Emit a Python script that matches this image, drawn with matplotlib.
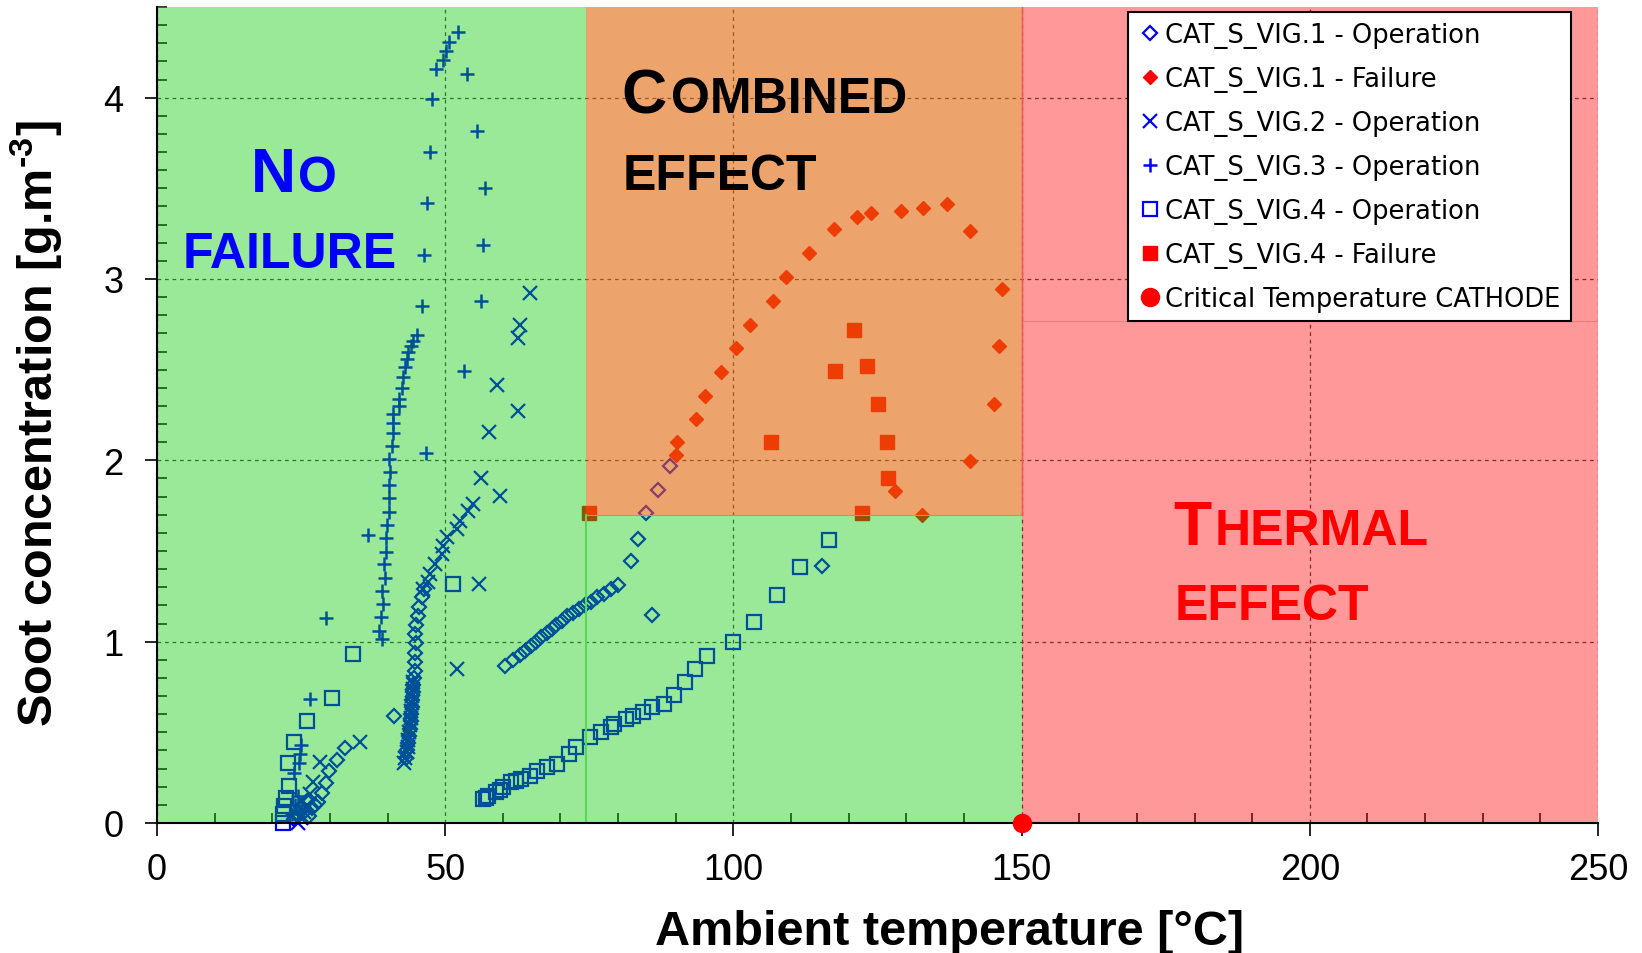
import matplotlib
matplotlib.use('Agg')
import matplotlib.pyplot as plt
from matplotlib.patches import Rectangle
from matplotlib.ticker import MultipleLocator

plt.rcParams['font.family'] = ['Liberation Sans Narrow', 'Liberation Sans', 'DejaVu Sans']

# ---- data ----
# CAT_S_VIG.1 - Operation (open diamonds)
vig1_op_x = [23.8, 24.5, 25.0, 25.5, 26.0, 26.4, 26.9, 27.4, 28.0, 28.6, 29.3, 29.9, 31.2, 32.65,
             41.1,
             43.2, 43.4, 43.6, 43.7, 43.9, 44.0, 44.1, 44.2, 44.3, 44.4, 44.5, 44.6, 44.7, 44.8,
             44.8, 44.85, 44.8, 45.0, 45.2, 45.5, 45.9, 46.4,
             60.3, 61.8, 62.9, 63.9, 64.8, 65.7, 66.7, 67.6, 68.5, 69.3, 70.3, 71.2, 72.2, 73.2,
             74.2, 75.3, 76.4, 77.5, 78.7, 80.0,
             82.3, 83.4, 84.8, 87.0, 89.0,
             85.8, 115.4]
vig1_op_y = [0.02, 0.05, 0.09, 0.06, 0.12, 0.04, 0.08, 0.10, 0.117, 0.165, 0.22, 0.285, 0.35, 0.415,
             0.588,
             0.36, 0.40, 0.44, 0.48, 0.52, 0.56, 0.60, 0.64, 0.68, 0.72, 0.76, 0.80, 0.84, 0.886,
             0.94, 0.99, 1.04, 1.09, 1.14, 1.19, 1.244, 1.29,
             0.866, 0.90, 0.925, 0.95, 0.975, 1.0, 1.025, 1.05, 1.07, 1.09, 1.115, 1.14, 1.16, 1.18,
             1.20, 1.22, 1.245, 1.265, 1.29, 1.31,
             1.443, 1.568, 1.707, 1.834, 1.966,
             1.148, 1.42]

# CAT_S_VIG.1 - Failure (red diamonds)
vig1_fail_x = [90.0, 90.3, 93.5, 95.1, 97.8, 100.4, 102.8, 106.8, 109.1, 113.2, 117.4, 121.5,
               123.9, 129.1, 132.95, 137.1, 141.0, 146.6, 146.1, 145.2, 141.1, 128.0, 132.7]
vig1_fail_y = [2.03, 2.10, 2.23, 2.354, 2.485, 2.617, 2.749, 2.88, 3.01, 3.144, 3.275, 3.344,
               3.364, 3.375, 3.394, 3.412, 3.264, 2.944, 2.631, 2.31, 1.997, 1.832, 1.698]

# CAT_S_VIG.2 - Operation (crosses)
vig2_op_x = [24.5, 25.0, 25.5, 26.0, 25.2, 26.6, 27.0, 28.3, 35.2,
             42.8, 43.0, 43.3, 43.5, 43.6, 43.8, 43.9, 44.0, 44.1, 44.2, 44.3, 44.4, 44.5,
             46.2, 47.1, 47.4, 48.2, 49.4, 49.7, 50.3, 52.0, 52.6, 54.0, 54.9,
             52.1, 55.9, 56.2, 59.5, 57.6, 62.6, 59.0, 62.6, 63.0, 64.7]
vig2_op_y = [0.0, 0.03, 0.06, 0.10, 0.12, 0.16, 0.224, 0.335, 0.448,
             0.33, 0.36, 0.39, 0.42, 0.46, 0.50, 0.54, 0.58, 0.62, 0.66, 0.70, 0.74, 0.78,
             1.29, 1.327, 1.373, 1.428, 1.483, 1.529, 1.575, 1.62, 1.667, 1.72, 1.759,
             0.849, 1.32, 1.902, 1.804, 2.159, 2.273, 2.416, 2.677, 2.745, 2.925]

# CAT_S_VIG.3 - Operation (plus)
vig3_op_x = [23.5, 24.0, 24.5, 23.8, 24.6, 24.8, 24.9, 26.5, 29.3, 36.6,
             39.1, 38.5, 38.8, 39.2, 39.1, 39.6, 39.4, 39.65, 39.7, 39.9, 40.2, 40.25, 40.25,
             40.5, 40.3, 40.7, 40.9, 40.9, 40.9, 41.9, 42.05, 42.45, 42.7, 43.0, 43.3, 43.6,
             44.0, 44.5, 45.05,
             46.0, 46.4, 46.8, 47.4, 47.75, 48.35, 49.6, 50.1, 50.7, 52.2, 53.7, 55.5, 56.9,
             56.6, 56.2, 53.3, 46.6]
vig3_op_y = [0.05, 0.10, 0.15, 0.276, 0.33, 0.38, 0.43, 0.683, 1.13, 1.59,
             1.014, 1.06, 1.134, 1.207, 1.278, 1.352, 1.428, 1.493, 1.57, 1.642, 1.716, 1.79, 1.863,
             1.937, 2.01, 2.08, 2.15, 2.205, 2.255, 2.30, 2.34, 2.40, 2.457, 2.512, 2.558, 2.595,
             2.63, 2.66, 2.69,
             2.852, 3.131, 3.42, 3.70, 3.99, 4.16, 4.206, 4.257, 4.307, 4.362, 4.129, 3.816, 3.50,
             3.188, 2.876, 2.494, 2.043]

# CAT_S_VIG.4 - Operation (open squares)
vig4_op_x = [21.8, 21.9, 22.1, 22.3, 22.9, 22.7, 23.85, 26.1, 30.4, 33.95, 51.3,
             56.6, 57.0, 57.5, 58.8, 59.5, 60.1, 61.4, 62.2, 63.1, 64.7, 66.0, 67.7, 69.4, 71.4,
             72.7, 75.2, 77.0, 78.7, 79.3, 81.3, 82.6, 84.4, 85.9, 87.9, 89.7, 91.6, 93.4, 95.35,
             99.85, 103.6, 107.6, 111.5, 116.6]
vig4_op_y = [0.0, 0.05, 0.095, 0.14, 0.204, 0.33, 0.445, 0.564, 0.688, 0.932, 1.32,
             0.132, 0.14, 0.15, 0.169, 0.18, 0.197, 0.224, 0.23, 0.243, 0.261, 0.288, 0.307, 0.325,
             0.38, 0.417, 0.472, 0.503, 0.528, 0.546, 0.573, 0.591, 0.61, 0.638, 0.656, 0.706,
             0.776, 0.849, 0.922, 0.996, 1.11, 1.259, 1.41, 1.56]

# CAT_S_VIG.4 - Failure (red squares)
vig4_fail_x = [75.0, 106.5, 117.7, 120.9, 122.3, 123.1, 125.0, 126.6, 126.8]
vig4_fail_y = [1.71, 2.10, 2.49, 2.72, 1.71, 2.52, 2.31, 2.10, 1.905]

# critical temperature of the cathode
crit_x = [150]
crit_y = [0]

blue = '#0000ff'
red = '#ff0000'

fig = plt.figure(figsize=(16.42, 9.54), dpi=100)
ax = fig.add_axes([157/1642, 1-824/954, 1441/1642, 816/954])

ax.plot(vig1_op_x, vig1_op_y, ls='none', marker='D', ms=7.5, mfc='none', mec=blue, mew=1.6,
        clip_on=False, zorder=2, label='CAT_S_VIG.1 - Operation')
ax.plot(vig1_fail_x, vig1_fail_y, ls='none', marker='D', ms=7.6, color=red,
        clip_on=False, zorder=2, label='CAT_S_VIG.1 - Failure')
ax.plot(vig2_op_x, vig2_op_y, ls='none', marker='x', ms=9.5, color=blue, mew=1.6,
        clip_on=False, zorder=2, label='CAT_S_VIG.2 - Operation')
ax.plot(vig3_op_x, vig3_op_y, ls='none', marker='+', ms=9.5, color=blue, mew=1.8,
        clip_on=False, zorder=2, label='CAT_S_VIG.3 - Operation')
ax.plot(vig4_op_x, vig4_op_y, ls='none', marker='s', ms=9.5, mfc='none', mec=blue, mew=1.6,
        clip_on=False, zorder=2, label='CAT_S_VIG.4 - Operation')
ax.plot(vig4_fail_x, vig4_fail_y, ls='none', marker='s', ms=10, color=red,
        clip_on=False, zorder=2, label='CAT_S_VIG.4 - Failure')
ax.plot(crit_x, crit_y, ls='none', marker='o', ms=13, color=red,
        clip_on=False, zorder=7, label='Critical Temperature CATHODE')

# coloured zones drawn over the points (translucent)
green = (0, 0.79, 0)
orange = (225/255, 103/255, 10/255)
ax.add_patch(Rectangle((0, 0), 74.5, 4.5, fc=green, alpha=0.4, lw=0, zorder=3))
ax.add_patch(Rectangle((74.5, 0), 75.5, 1.7, fc=green, alpha=0.4, lw=0, zorder=3))
ax.add_patch(Rectangle((74.5, 1.7), 75.5, 2.8, fc=orange, alpha=0.6, lw=0, zorder=3))
ax.add_patch(Rectangle((150, 0), 100, 4.5, fc=red, alpha=0.4, lw=0, zorder=3))
ax.plot([74.5, 74.5], [0, 1.7], color='#5ad45a', lw=1.5, zorder=3.5)
ax.plot([74.5, 150], [1.7, 1.7], color='#9aa860', lw=0.8, zorder=3.5)
ax.plot([150, 250], [2.77, 2.77], color='#f47a7a', lw=0.8, zorder=3.5)
ax.plot([150, 150], [1.7, 4.5], color='#ff5050', lw=1.0, zorder=3.5)

ax.set_xlim(0, 250)
ax.set_ylim(0, 4.5)
ax.xaxis.set_major_locator(MultipleLocator(50))
ax.xaxis.set_minor_locator(MultipleLocator(10))
ax.yaxis.set_major_locator(MultipleLocator(1))
ax.yaxis.set_minor_locator(MultipleLocator(0.1))
ax.set_axisbelow(True)
ax.grid(True, which='major', color='#444444', lw=0.9, ls=(0, (3, 3)))
ax.tick_params(which='major', direction='out', length=9, width=1.2, labelsize=26)
ax.tick_params(which='minor', direction='in', length=7, width=1.1)
ax.tick_params(axis='y', which='major', pad=15)
ax.tick_params(axis='x', which='major', pad=12)
for side in ['top', 'right']:
    ax.spines[side].set_visible(False)
for side in ['left', 'bottom']:
    ax.spines[side].set_linewidth(1.5)
    ax.spines[side].set_zorder(4)

lab = dict(family=['Liberation Sans', 'DejaVu Sans'], weight='bold', fontsize=35)
fig.text(949.5/1642, 1-945/954, 'Ambient temperature [°C]', ha='center', va='baseline', **lab)
fig.text(37/1642, 1-424/954, 'Soot concentration [g.m$^{\\mathregular{\u20103}}$]', rotation=90,
         ha='center', va='center', **lab)

# zone labels in small caps
zt = dict(family=['Liberation Sans', 'DejaVu Sans'], weight='bold', ha='left', va='baseline', zorder=6)
ax.text(16.3, 3.484, 'N', fontsize=45, color=blue, **zt)
ax.text(24.4, 3.484, 'O', fontsize=36, color=blue, **zt)
ax.text(4.5, 3.065, 'FAILURE', fontsize=36, color=blue, **zt)
ax.text(80.5, 3.919, 'C', fontsize=45, color='black', **zt)
ax.text(89.2, 3.919, 'OMBINED', fontsize=36, color='black', **zt)
ax.text(80.85, 3.495, 'EFFECT', fontsize=36, color='black', **zt)
ax.text(176.3, 1.538, 'T', fontsize=45, color=red, **zt)
ax.text(183.55, 1.538, 'HERMAL', fontsize=36, color=red, **zt)
ax.text(176.6, 1.125, 'EFFECT', fontsize=36, color=red, **zt)

leg = ax.legend(loc='upper right', bbox_to_anchor=(0.981, 0.994), prop=dict(family='DejaVu Sans', size=18.5),
                frameon=True, fancybox=False, edgecolor='black', framealpha=1, borderaxespad=0,
                borderpad=0.38, labelspacing=0.7, handlelength=0.95, handletextpad=0.12)
leg.get_frame().set_linewidth(1.5)
leg.set_zorder(10)

fig.savefig('out.png', dpi=100)
